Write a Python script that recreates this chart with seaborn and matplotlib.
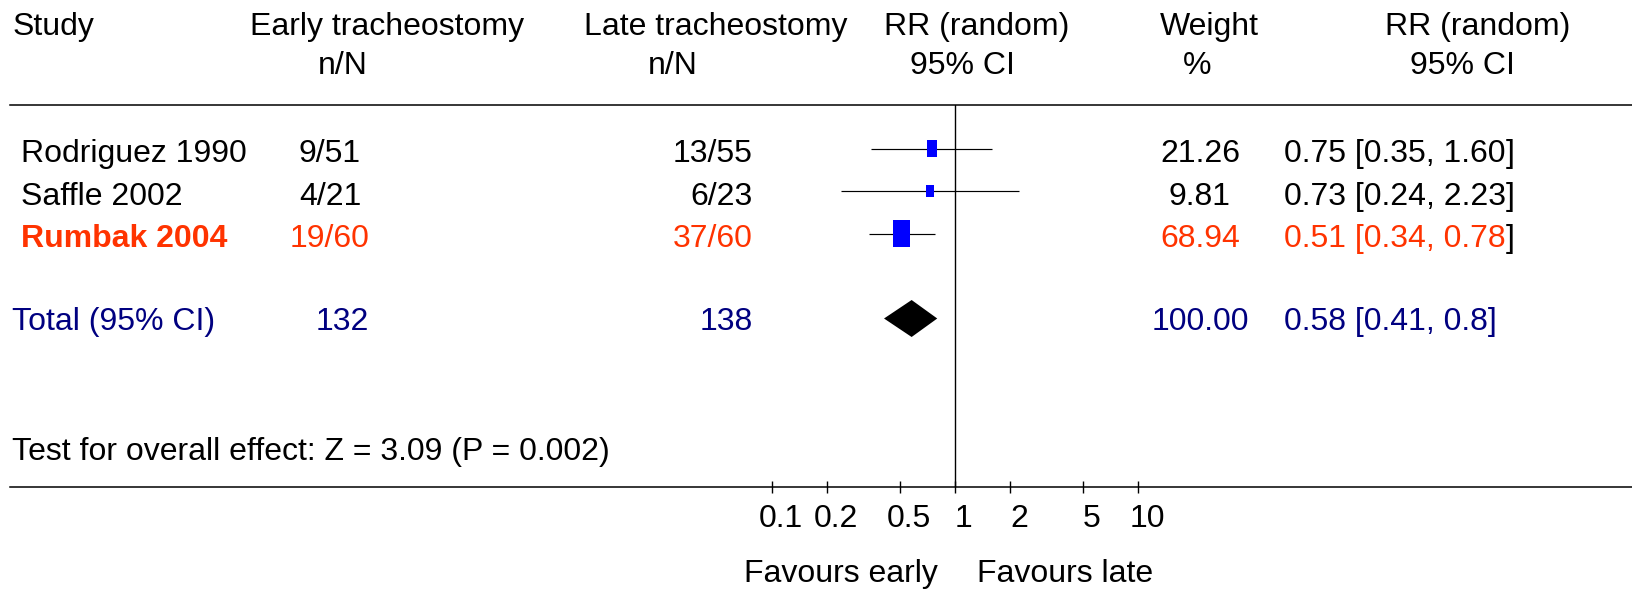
import numpy as np
import pandas as pd
import matplotlib
matplotlib.use("Agg")
import matplotlib.pyplot as plt
import matplotlib.transforms as mtransforms
import seaborn as sns

# ---------------- data ----------------
studies = ["Rodriguez 1990", "Saffle 2002", "Rumbak 2004"]
early_events = [9, 4, 19]
early_total = [51, 21, 60]
late_events = [13, 6, 37]
late_total = [55, 23, 60]
rr = [0.75, 0.73, 0.51]
ci_low = [0.35, 0.24, 0.34]
ci_high = [1.60, 2.23, 0.78]
weights = [21.26, 9.81, 68.94]
highlight = [False, False, True]

total_label = "Total (95% CI)"
total_early = 132
total_late = 138
total_rr = 0.58
total_low = 0.41
total_high = 0.8
total_weight = 100.00
total_ci_text = "0.58 [0.41, 0.8]"

overall_test = "Test for overall effect: Z = 3.09 (P = 0.002)"
x_ticks = [0.1, 0.2, 0.5, 1, 2, 5, 10]
x_ticklabels = ["0.1", "0.2", "0.5", "1", "2", "5", "10"]
favours_left = "Favours early"
favours_right = "Favours late"

# ---------------- style / layout ----------------
W, H = 1633, 591
DPI = 100
RED = "#FF3300"
NAVY = "#000080"
BLUE = "#0000FF"
FS = 23

sns.set_theme(style="white")
plt.rcParams["font.family"] = ["Liberation Sans", "DejaVu Sans"]

fig = plt.figure(figsize=(W / DPI, H / DPI), dpi=DPI)
fig.patch.set_facecolor("white")

NULL_PX = 955.0
DECADE_PX = 183.3
AX_LEFT, AX_RIGHT = 10, W
AX_TOP, AX_BOTTOM = 105, 487
ROW_PX = 42.5
ROW1_PX = 148.5

ax = fig.add_axes([AX_LEFT / W, 1 - AX_BOTTOM / H, (AX_RIGHT - AX_LEFT) / W,
                   (AX_BOTTOM - AX_TOP) / H])
ax.set_xscale("log")
ax.set_xlim(10 ** ((AX_LEFT - NULL_PX) / DECADE_PX), 10 ** ((AX_RIGHT - NULL_PX) / DECADE_PX))
ytop = 1 + (AX_TOP - ROW1_PX) / ROW_PX
ybot = 1 + (AX_BOTTOM - ROW1_PX) / ROW_PX
ax.set_ylim(ybot, ytop)
ax.set_facecolor("white")

for s in ["left", "right"]:
    ax.spines[s].set_visible(False)
for s in ["top", "bottom"]:
    ax.spines[s].set_visible(True)
    ax.spines[s].set_color("black")
    ax.spines[s].set_linewidth(1.1)

study_rows = np.arange(1, len(studies) + 1)
total_row = len(studies) + 2

# null line
ax.axvline(1, color="black", lw=1.0, zorder=1)

# CI lines
ax.hlines(study_rows, ci_low, ci_high, color="black", lw=0.85, zorder=2)

# study squares (rectangles) sized by weight
df = pd.DataFrame({"rr": rr, "row": study_rows, "weight": weights})
rect_marker = [(-0.31, -0.5), (0.31, -0.5), (0.31, 0.5), (-0.31, 0.5), (-0.31, -0.5)]
sns.scatterplot(data=df, x="rr", y="row", size="weight", sizes=(80, 400),
                marker=rect_marker, color=BLUE, linewidth=0, edgecolor="none",
                legend=False, ax=ax, zorder=3)

# pooled diamond
dh = 0.435
ax.fill([total_low, total_rr, total_high, total_rr],
        [total_row, total_row - dh, total_row, total_row + dh],
        color="black", lw=0, zorder=3)

# axis ticks
ax.set_xticks(x_ticks)
ax.set_xticklabels(x_ticklabels)
ax.xaxis.set_minor_locator(matplotlib.ticker.NullLocator())
ax.set_yticks([])
ax.set_xlabel("")
ax.set_ylabel("")
ax.tick_params(axis="x", direction="inout", length=8, width=1.0, pad=8,
               labelsize=FS, colors="black", bottom=True, top=False)
for lab in ax.get_xticklabels():
    lab.set_transform(lab.get_transform() +
                      mtransforms.ScaledTranslation(9 / DPI, 0, fig.dpi_scale_trans))

# ---------------- text ----------------
px = mtransforms.Affine2D().scale(1 / W, -1 / H).translate(0, 1) + fig.transFigure
rowt = mtransforms.blended_transform_factory(px, ax.transData)
BOFF = 0.32
BOFF_TOTAL = 0.27


def ptxt(x, y, s, ha="left", color="black", weight="normal"):
    return fig.text(x, y, s, transform=px, ha=ha, va="baseline", fontsize=FS,
                    color=color, fontweight=weight)


def rtxt(x, y, s, ha="left", color="black", weight="normal"):
    return fig.text(x, y, s, transform=rowt, ha=ha, va="baseline",
                    fontsize=FS, color=color, fontweight=weight)


# headers
ptxt(12.5, 35, "Study")
ptxt(387, 35, "Early tracheostomy", ha="center")
ptxt(343, 74, "n/N", ha="center")
ptxt(716, 35, "Late tracheostomy", ha="center")
ptxt(673, 74, "n/N", ha="center")
ptxt(977, 35, "RR (random)", ha="center")
ptxt(962, 74, "95% CI", ha="center")
ptxt(1209, 35, "Weight", ha="center")
ptxt(1197, 74, "%", ha="center")
ptxt(1478, 35, "RR (random)", ha="center")
ptxt(1462, 74, "95% CI", ha="center")

for i, name in enumerate(studies):
    r = study_rows[i] + BOFF
    c = RED if highlight[i] else "black"
    rtxt(21, r, name, color=c, weight="bold" if highlight[i] else "normal")
    rtxt(330, r, f"{early_events[i]}/{early_total[i]}", ha="center", color=c)
    rtxt(753, r, f"{late_events[i]}/{late_total[i]}", ha="right", color=c)
    rtxt(1200, r, f"{weights[i]:.2f}", ha="center", color=c)
    body = f"{rr[i]:.2f} [{ci_low[i]:.2f}, {ci_high[i]:.2f}"
    t = rtxt(1284, r, body, color=c)
    fig.canvas.draw()
    bb = t.get_window_extent()
    fig.text(bb.x1, r, "]", transform=mtransforms.blended_transform_factory(
        mtransforms.IdentityTransform(), ax.transData), ha="left", va="baseline",
        fontsize=FS, color="black")

rt = total_row + BOFF_TOTAL
rtxt(12.5, rt, total_label, color=NAVY)
rtxt(342, rt, f"{total_early}", ha="center", color=NAVY)
rtxt(753, rt, f"{total_late}", ha="right", color=NAVY)
rtxt(1200, rt, f"{total_weight:.2f}", ha="center", color=NAVY)
rtxt(1284, rt, total_ci_text, color=NAVY)

ptxt(12.5, 460, overall_test)
ptxt(NULL_PX - 17, 582, favours_left, ha="right")
ptxt(NULL_PX + 22, 582, favours_right, ha="left")

fig.savefig("out.png", dpi=DPI, facecolor="white")
